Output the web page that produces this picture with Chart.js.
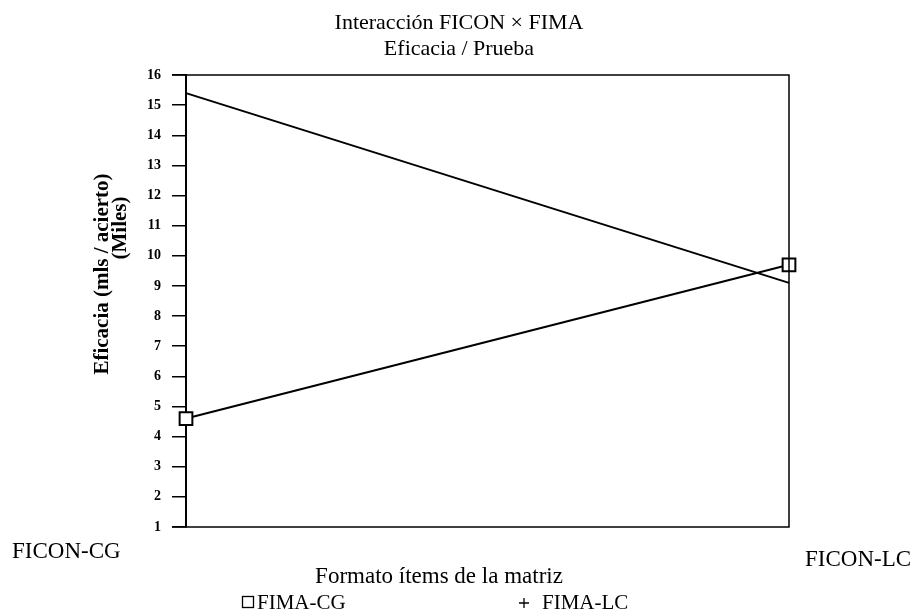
<!DOCTYPE html>
<html>
<head>
<meta charset="utf-8">
<script src="https://cdn.jsdelivr.net/npm/chart.js@4.4.1/dist/chart.umd.min.js"></script>
<style>
    html, body { margin: 0; padding: 0; background: #fff; }
    #wrap { width: 918px; height: 612px; }
</style>
</head>
<body>
<div id="wrap"><canvas id="chart" width="918" height="612"></canvas></div>
<script>
(function () {
    const FICON = ['FICON-CG', 'FICON-LC'];
    const FIMA_CG = [4.6, 9.7];
    const FIMA_LC = [15.4, 9.1];
    const Y_MIN = 1;
    const Y_MAX = 16;

    const SERIF = '"Liberation Serif", "DejaVu Serif", serif';

    // title, frame, category labels, axis titles and legend as in the original figure
    const extras = {
        id: 'extras',
        afterDatasetsDraw(chart) {
            const ctx = chart.ctx;
            const a = chart.chartArea;
            const x = chart.scales.x;
            ctx.save();
            ctx.strokeStyle = '#000';
            ctx.fillStyle = '#000';
            ctx.lineWidth = 1.5;
            ctx.beginPath();
            ctx.moveTo(a.left - 14, a.top);
            ctx.lineTo(a.right, a.top);
            ctx.lineTo(a.right, a.bottom);
            ctx.lineTo(a.left - 14, a.bottom);
            ctx.stroke();

            ctx.textBaseline = 'middle';
            ctx.textAlign = 'center';
            ctx.font = '22px ' + SERIF;
            ctx.fillText('Interacción FICON × FIMA', 459, 23);
            ctx.fillText('Eficacia / Prueba', 459, 49);

            ctx.font = '23px ' + SERIF;
            ctx.textAlign = 'left';
            ctx.fillText(chart.data.labels[0], x.getPixelForValue(0) - 174, a.bottom + 25);
            ctx.fillText(chart.data.labels[1], x.getPixelForValue(1) + 16, a.bottom + 33);

            ctx.textAlign = 'center';
            ctx.fillText('Formato ítems de la matriz', 439, a.bottom + 50);

            // y title, two lines rotated
            ctx.font = 'bold 21px ' + SERIF;
            ctx.save();
            ctx.translate(103, 274);
            ctx.rotate(-Math.PI / 2);
            ctx.fillText('Eficacia (mls / acierto)', 0, 0);
            ctx.restore();
            ctx.save();
            ctx.translate(121, 228);
            ctx.rotate(-Math.PI / 2);
            ctx.fillText('(Miles)', 0, 0);
            ctx.restore();

            // legend
            const ly = a.bottom + 76;
            ctx.font = '21px ' + SERIF;
            ctx.textAlign = 'left';
            ctx.lineWidth = 1.3;
            ctx.strokeRect(242.5, ly - 6.5, 11, 11);
            ctx.fillText(chart.data.datasets[0].label, 257, ly);
            ctx.beginPath();
            ctx.moveTo(519, ly);
            ctx.lineTo(529, ly);
            ctx.moveTo(524, ly - 5);
            ctx.lineTo(524, ly + 5);
            ctx.stroke();
            ctx.fillText(chart.data.datasets[1].label, 542, ly);
            ctx.restore();
        }
    };

    new Chart(document.getElementById('chart'), {
        type: 'line',
        data: {
            labels: FICON,
            datasets: [
                {
                    label: 'FIMA-CG',
                    data: FIMA_CG,
                    borderColor: '#000',
                    borderWidth: 2,
                    pointStyle: 'rect',
                    pointRadius: 9,
                    pointBorderWidth: 2,
                    pointBorderColor: '#000',
                    pointBackgroundColor: '#fff',
                    tension: 0
                },
                {
                    label: 'FIMA-LC',
                    data: FIMA_LC,
                    borderColor: '#000',
                    borderWidth: 2,
                    pointStyle: 'cross',
                    pointRadius: 0,
                    tension: 0
                }
            ]
        },
        options: {
            responsive: false,
            animation: false,
            layout: { padding: { left: 0, right: 129, top: 75, bottom: 85 } },
            plugins: {
                legend: { display: false },
                tooltip: { enabled: false },
                title: { display: false }
            },
            scales: {
                x: {
                    type: 'category',
                    offset: false,
                    display: false
                },
                y: {
                    min: Y_MIN,
                    max: Y_MAX,
                    afterFit(scale) { scale.width = 186; },
                    border: { display: true, color: '#000', width: 2 },
                    grid: {
                        drawOnChartArea: false,
                        drawTicks: true,
                        tickLength: 14,
                        color: '#000',
                        lineWidth: 1.5
                    },
                    ticks: {
                        stepSize: 1,
                        padding: 11,
                        color: '#000',
                        font: { family: SERIF, size: 14, weight: 'bold' }
                    }
                }
            }
        },
        plugins: [extras]
    });
})();
</script>
</body>
</html>
